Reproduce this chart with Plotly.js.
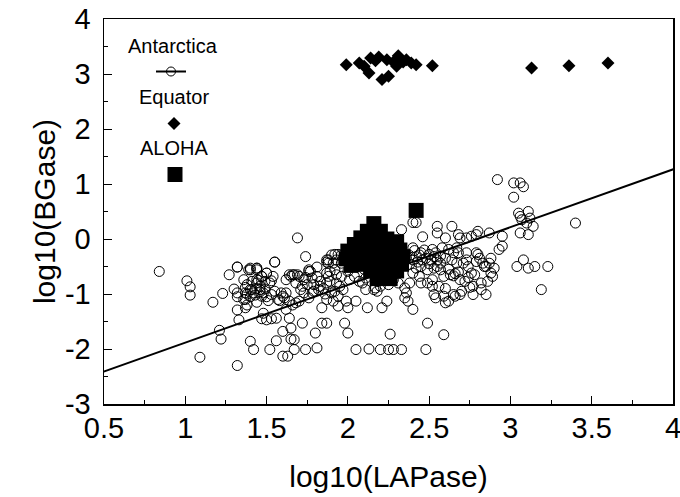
<!DOCTYPE html>
<html>
<head>
<meta charset="utf-8">
<script src="https://cdn.plot.ly/plotly-3.0.1.min.js"></script>
<style>html,body{margin:0;padding:0;background:#fff;}#chart{width:680px;height:497px;}</style>
</head>
<body>
<div id="chart"></div>
<script>
// Antarctica (open circles)
const antX = [0.84,1.01,1.03,1.03,1.09,1.17,1.21,1.22,1.23,1.27,1.32,1.30,1.32,1.32,1.32,1.33,1.37,1.40,1.42,1.32,1.36,1.40,1.44,1.37,1.41,1.44,1.46,1.49,1.45,1.50,1.53,1.55,1.47,1.53,1.52,1.56,
1.38,1.40,1.42,1.36,1.44,1.38,1.48,1.50,1.53,1.52,1.54,1.47,1.44,
1.50,1.48,1.56,1.64,1.72,1.65,1.60,1.62,
1.60,1.63,1.67,1.67,1.65,1.74,1.81,1.80,1.84,1.87,1.98,2.00,2.05,2.13,2.20,2.25,2.28,2.33,2.48,2.49,2.59,2.26,
1.69,1.74,1.55,1.88,1.94,1.91,1.92,1.98,
2.33,2.40,2.42,2.46,2.55,2.55,2.60,2.64,2.68,2.69,2.73,2.76,2.79,2.80,2.87,2.95,
2.92,3.02,3.06,3.08,3.02,3.05,3.06,3.11,3.07,3.10,3.14,3.06,3.11,3.12,3.40,
3.04,3.11,3.15,3.23,3.08,3.19,
2.95,2.93,2.88,2.90,2.89,2.86,2.85,2.82,2.77,2.77,2.65,2.66,2.69,2.59,2.53,2.54,2.62,2.60,
2.64,2.67,2.71,2.73,2.73,2.74,2.76,2.79,2.83,2.84,2.63,2.65,2.66,2.54,2.52,2.57,2.49,2.52,2.49,2.52,2.46,2.42,2.40,2.45,2.40,2.38,2.36,2.35,2.35,2.37,2.40,2.31,2.30,
2.21,2.24,2.18,2.16,2.12,2.11,2.05,2.00,1.99,1.94,1.91,1.87,1.84,1.94,1.97,1.78,1.76,1.73,1.72,1.73,1.70,1.70,1.68,1.64,1.62,1.60,1.57,1.59,1.46,1.47,1.40,1.38,1.41,1.37,1.37,1.44,1.44,1.40,1.47,1.49,
1.64,1.65,1.67,1.76,1.77,1.78,1.81,1.83,1.87,1.88,1.89,1.92,1.93,1.96,2.00,2.01,2.04,2.07,2.09,2.11,1.79,1.83,1.87,1.89,1.93,1.87,1.88,1.96,1.97,2.00,
2.33,2.31,2.42,2.44,2.45,2.53,2.55,2.57,2.59,2.69,2.72,2.85,2.87,2.65,2.67,2.68,2.58,2.62,2.79,2.80,2.81,2.88,
2.38,2.40,2.43,2.45,2.48,2.50,2.47,2.50,2.38,2.41,2.44,2.51,2.53,2.55,2.57,2.60,
2.25,2.28,2.20,2.17,2.14,2.06,2.10,
1.32,1.39,1.44,1.50,1.66,1.69,1.76,1.81,1.87,1.90,1.93,1.96,
1.58,1.61,1.66,1.71,1.75,1.79,1.85,1.90,1.95,1.62,1.68,1.74,1.82,1.86,1.92,2.62,2.68,2.74,2.78,2.56,2.60,2.70,2.75,2.82,1.43,1.46,1.51,1.55];
const antY = [-0.59,-0.76,-0.87,-1.02,-2.15,-1.15,-1.66,-1.82,-0.99,-0.65,-0.51,-0.91,-0.98,-1.05,-1.29,-1.47,-1.25,-1.86,-2.01,-2.30,-0.74,-0.56,-0.56,-0.88,-0.92,-0.90,-0.96,-0.91,-0.75,-0.62,-0.76,-0.42,-1.45,-1.45,-2.01,-1.85,
-1.00,-1.05,-0.98,-1.10,-1.15,-1.20,-0.98,-1.05,-1.01,-0.80,-0.68,-0.68,-0.80,
-1.47,-1.35,-1.44,-1.44,-1.53,-1.62,-1.68,-1.28,
-2.13,-2.13,-2.01,-1.83,-1.82,-2.01,-1.98,-1.71,-1.53,-1.53,-1.53,-1.71,-2.01,-2.00,-2.01,-2.01,-2.01,-2.01,-2.01,-1.53,-1.74,-1.73,
0.02,-0.32,-0.42,-0.38,-0.28,-0.44,-0.28,-0.32,
0.17,0.30,0.30,0.04,0.23,0.11,0.02,0.23,0.08,0.02,0.02,0.05,0.08,0.14,0.11,0.05,
1.08,1.02,1.02,0.95,0.76,0.47,0.41,0.50,0.35,0.29,0.23,0.11,0.08,0.38,0.29,
-0.50,-0.53,-0.50,-0.50,-0.38,-0.92,
-0.13,-0.19,-0.35,-0.53,-0.68,-0.77,-1.01,-0.92,-1.01,-0.86,-1.01,-1.04,-1.01,-1.04,-1.01,-1.07,-1.13,-1.16,
-0.38,-0.44,-0.44,-0.25,-0.38,-0.50,-0.62,-0.41,-0.44,-0.50,-0.65,-0.67,-0.63,-0.25,-0.19,-0.31,-0.56,-0.74,-0.80,-0.86,-0.38,-0.32,-0.16,-0.25,-0.62,-0.80,-0.98,-0.89,-1.07,-1.13,-1.28,-0.80,-0.62,
-1.25,-1.13,-0.95,-0.92,-1.25,-0.92,-1.13,-1.25,-1.13,-1.22,-1.13,-1.10,-1.25,-1.04,-0.92,-0.98,-1.07,-0.98,-0.86,-0.74,-0.68,-1.13,-1.16,-1.13,-0.98,-1.04,-1.10,-0.98,-0.92,-1.04,-0.92,-0.83,-0.77,-0.98,-1.10,-0.74,-0.53,-0.53,-0.68,-0.77,
-0.65,-0.68,-0.65,-0.59,-0.59,-0.71,-0.68,-0.77,-0.62,-0.68,-0.59,-0.56,-0.65,-0.68,-0.59,-0.74,-0.68,-0.77,-0.80,-0.71,-0.83,-0.86,-0.80,-0.77,-0.80,-0.38,-0.44,-0.44,-0.35,-0.31,
-0.25,-0.16,-0.53,-0.68,-0.80,-0.53,-0.50,-0.56,-0.68,-0.74,-0.77,-0.50,-0.44,-0.25,-0.16,-0.25,-0.16,-0.19,-0.25,-0.28,-0.35,-0.62,
-0.30,-0.38,-0.42,-0.50,-0.35,-0.28,-0.20,-0.45,-0.46,-0.21,-0.29,-0.38,-0.32,-0.38,-0.44,-0.35,
-0.83,-0.74,-0.86,-0.89,-0.60,-0.50,-0.55,
-0.51,-0.56,-0.53,-0.62,-0.65,-0.65,-0.56,-0.51,-0.42,-0.29,-0.38,-0.29,
-1.12,-1.07,-1.20,-0.92,-0.83,-0.95,-0.90,-0.98,-0.86,-0.74,-0.80,-0.70,-0.92,-1.00,-0.95,-0.55,-0.60,-0.70,-0.65,-0.86,-0.90,-0.95,-0.88,-0.80,-1.02,-0.86,-1.12,-0.95];

// Equator (filled diamonds)
const eqX = [1.99,2.07,2.10,2.14,2.13,2.17,2.19,2.21,2.24,2.25,2.28,2.30,2.31,2.34,2.36,2.39,2.42,2.52,3.13,3.36,3.60];
const eqY = [3.17,3.20,3.14,3.29,3.02,3.24,3.31,2.90,3.26,2.96,3.22,3.14,3.33,3.22,3.26,3.20,3.17,3.15,3.11,3.15,3.20];

// ALOHA (filled squares)
const alX = [2.16,2.12,2.20,2.08,2.16,2.24,2.04,2.12,2.20,2.30,2.00,2.08,2.16,2.24,2.32,1.99,2.06,2.13,2.20,2.28,2.34,2.02,2.10,2.17,2.25,2.33,2.14,2.22,2.30,2.18,2.26,2.42];
const alY = [0.28,0.14,0.14,0.02,0.02,0.00,-0.10,-0.10,-0.12,-0.05,-0.22,-0.22,-0.24,-0.22,-0.20,-0.36,-0.36,-0.34,-0.36,-0.35,-0.32,-0.48,-0.46,-0.48,-0.48,-0.46,-0.58,-0.60,-0.58,-0.72,-0.72,0.52];

// Regression line for Antarctica: y = slope*x + intercept
const fitSlope = 1.05;
const fitIntercept = -2.935;
const fitX = [0.3, 4.2];
const fitY = fitX.map(v => fitSlope * v + fitIntercept);

const xTicks = [0.5,1,1.5,2,2.5,3,3.5,4];
const yTicks = [-3,-2,-1,0,1,2,3,4];

const FONT = 'Liberation Sans, Arial, Helvetica, sans-serif';

const traces = [
  {x: antX, y: antY, type:'scatter', mode:'markers', name:'Antarctica', showlegend:false,
   marker:{symbol:'circle-open', size:10, color:'#000', line:{width:1, color:'#000'}}},
  {x: fitX, y: fitY, type:'scatter', mode:'lines+markers', name:' ', legend:'legend',
   line:{color:'#000', width:2}, marker:{symbol:'circle-open', size:9, color:'#000', line:{width:1}}},
  {x: alX, y: alY, type:'scatter', mode:'markers', name:' ', legend:'legend3',
   marker:{symbol:'square', size:15, color:'#000'}},
  {x: eqX, y: eqY, type:'scatter', mode:'markers', name:' ', legend:'legend2',
   marker:{symbol:'diamond', size:10, color:'#000'}}
];

const px2x = p => (p - 104) / 569;
const px2y = p => (404 - p) / 385;

const legendBase = {bgcolor:'rgba(0,0,0,0)', borderwidth:0, font:{family:FONT, size:20, color:'#000'}, xanchor:'left', yanchor:'top'};

const layout = {
  width:680, height:497,
  margin:{l:104, r:7, t:19, b:93, pad:0},
  paper_bgcolor:'#fff', plot_bgcolor:'#fff',
  font:{family:FONT, color:'#000'},
  xaxis:{range:[0.5,4], tickvals:xTicks, ticktext:xTicks.map(String), ticks:'inside', ticklen:8, tickwidth:1, tickcolor:'#000',
    minor:{dtick:0.25, ticks:'inside', ticklen:4, tickwidth:1, tickcolor:'#000', showgrid:false},
    showline:true, linecolor:'#000', linewidth:1.5, mirror:true, showgrid:false, zeroline:false,
    tickfont:{family:FONT, size:29, color:'#000'}, ticklabelstandoff:-2, ticklabeloverflow:'allow',
    title:{text:'log10(LAPase)', font:{family:FONT, size:30, color:'#000'}, standoff:22}},
  yaxis:{range:[-3,4], tickvals:yTicks, ticktext:yTicks.map(String), ticks:'inside', ticklen:8, tickwidth:1, tickcolor:'#000',
    minor:{dtick:0.5, ticks:'inside', ticklen:4, tickwidth:1, tickcolor:'#000', showgrid:false},
    showline:true, linecolor:'#000', linewidth:1.5, mirror:true, showgrid:false, zeroline:false,
    tickfont:{family:FONT, size:29, color:'#000'}, ticklabelstandoff:6, ticklabeloverflow:'allow',
    title:{text:'log10(BGase)', font:{family:FONT, size:30, color:'#000'}, standoff:0}},
  showlegend:true,
  legend: Object.assign({}, legendBase, {x:px2x(151), y:px2y(52)}),
  legend2: Object.assign({}, legendBase, {x:px2x(154), y:px2y(104)}),
  legend3: Object.assign({}, legendBase, {x:px2x(155), y:px2y(155)}),
  annotations:[
    {text:'Antarctica', xref:'paper', yref:'paper', x:px2x(173), y:px2y(46), xanchor:'center', yanchor:'middle', showarrow:false, font:{family:FONT, size:20, color:'#000'}},
    {text:'Equator', xref:'paper', yref:'paper', x:px2x(174), y:px2y(97), xanchor:'center', yanchor:'middle', showarrow:false, font:{family:FONT, size:20, color:'#000'}},
    {text:'ALOHA', xref:'paper', yref:'paper', x:px2x(174), y:px2y(148), xanchor:'center', yanchor:'middle', showarrow:false, font:{family:FONT, size:20, color:'#000'}}
  ]
};

Plotly.newPlot('chart', traces, layout, {displayModeBar:false, staticPlot:true});
</script>
</body>
</html>
